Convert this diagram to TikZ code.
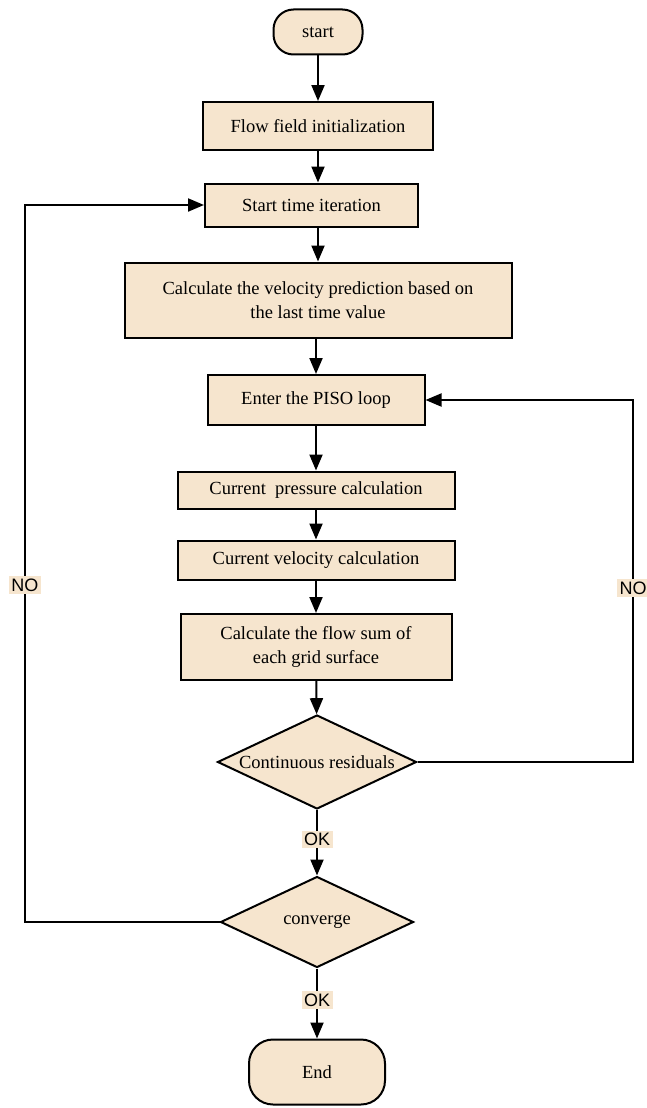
\documentclass[tikz,border=0pt]{standalone}
\usepackage{fontspec}
\setmainfont{Liberation Serif}
\newfontfamily\lblfont{Liberation Sans}
\usetikzlibrary{arrows.meta,shapes.geometric}
\definecolor{boxfill}{RGB}{246,229,206}
\tikzset{
  every node/.style={font=\fontsize{18.5}{22}\selectfont},
  proc/.style={draw, line width=2pt, fill=boxfill, inner sep=0pt, align=center},
  term/.style={proc, rounded corners=16pt},
  dec/.style={draw, line width=2pt, fill=boxfill, diamond, inner sep=0pt, aspect=2},
  conn/.style={line width=2pt, -{Triangle[length=16pt,width=13pt]}},
  lbl/.style={fill=boxfill, inner sep=2.5pt, font=\lblfont\fontsize{18}{21}\selectfont},
}
\begin{document}
\begin{tikzpicture}[x=1pt,y=-1pt]
\useasboundingbox (0,0) rectangle (646,1108);
\node[term, minimum width=89pt, minimum height=45pt, rounded corners=20pt] (start) at (318,32) {start};
\node[proc, minimum width=230pt, minimum height=48pt] (init) at (318,126) {Flow field initialization};
\node[proc, minimum width=213pt, minimum height=43pt] (time) at (311.5,205) {Start time iteration};
\node[proc, minimum width=387pt, minimum height=75pt] (pred) at (318,300) {Calculate the velocity prediction based on\\[2pt] the last time value};
\node[proc, minimum width=217pt, minimum height=50pt] (piso) at (316,400) {Enter the PISO loop};
\node[proc, minimum width=277pt, minimum height=37pt] (pres) at (316,490) {Current\ \ pressure calculation};
\node[proc, minimum width=277pt, minimum height=39pt] (vel) at (316,560) {Current velocity calculation};
\node[proc, minimum width=271pt, minimum height=66pt] (flow) at (316,647) {Calculate the flow sum of\\[2pt] each grid surface};
\node[dec, minimum width=199pt, minimum height=94pt] (res) at (317,762) {};
\node (restext) at (res.center) {Continuous residuals};
\node[dec, minimum width=193pt, minimum height=91pt] (conv) at (317,922) {};
\node (convtext) at (conv.center) {converge};
\node[term, minimum width=136pt, minimum height=65pt, rounded corners=24pt] (end) at (317,1072) {End};

\coordinate (mid) at (318,0);
\coordinate (lft) at (25,0);
\coordinate (rgt) at (633,0);
\draw[conn] (start) -- (init);
\draw[conn] (init) -- (mid |- time.north);
\draw[conn] (mid |- time.south) -- (pred);
\draw[conn] (pred.south -| piso) -- (piso);
\draw[conn] (piso) -- (pres);
\draw[conn] (pres) -- (vel);
\draw[conn] (vel) -- (flow);
\draw[conn] (flow) -- (res);
\draw[conn] (res) -- node[lbl, pos=0.45] {OK} (conv);
\draw[conn] (conv) -- node[lbl, pos=0.45] {OK} (end);
\draw[conn] (conv.west) -- (conv.west -| lft) -- node[lbl, pos=0.47] {NO} (time.west -| lft) -- (time.west);
\draw[conn] (res.east) -- (res.east -| rgt) -- node[lbl, pos=0.48] {NO} (piso.east -| rgt) -- (piso.east);
\end{tikzpicture}
\end{document}
